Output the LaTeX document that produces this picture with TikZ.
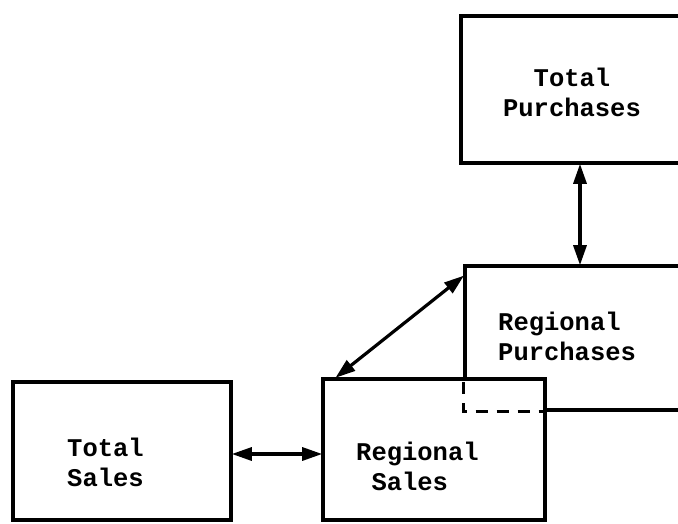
\documentclass[tikz,border=0pt]{standalone}
\usepackage{fontspec}
\newfontfamily\tw{Liberation Mono}
\usetikzlibrary{arrows.meta,calc}
\tikzset{
  box/.style={draw, line width=3.6pt, fill=white, inner sep=0pt, rectangle},
  lbl/.style={font=\tw\bfseries\fontsize{25.5}{30}\selectfont, inner sep=0pt},
  link/.style={line width=3.2pt, {Triangle[length=20pt,width=13pt]}-{Triangle[length=20pt,width=13pt]}, shorten <=-1pt, shorten >=-1pt},
  hidden/.style={line width=3.2pt, dash pattern=on 12pt off 9pt}
}
\begin{document}
\begin{tikzpicture}[x=1pt,y=-1pt]
\useasboundingbox (0,0) rectangle (678,523);
\clip (0,0) rectangle (678,523);
\fill[white] (0,0) rectangle (678,523);
% boxes
\node[box, minimum width=222pt, minimum height=147pt] (tp) at (572,89.5) {};
\node[box, minimum width=225pt, minimum height=144pt] (rp) at (577.5,338) {};
\node[box, minimum width=222pt, minimum height=141pt] (rs) at (434,449.5) {};
\node[box, minimum width=218pt, minimum height=138pt] (ts) at (122,451) {};
% labels
\node[lbl, align=center] (tpt) at (572,92) {Total\\Purchases};
\node[lbl, align=left, anchor=west] (rpt) at (498,336) {Regional\\Purchases};
\node[lbl, align=left, anchor=west] (rst) at (356,466) {Regional\\\hphantom{R}Sales};
\node[lbl, align=left, anchor=west] (tst) at (67,462) {Total\\Sales};
% connector end points
\coordinate (tsa) at ([yshift=-3pt]ts.east);
\coordinate (rsa) at (tsa -| rs.west);
\coordinate (rsb) at ($(rs.north west)+(15,0)$);
\coordinate (rpb) at ($(rp.north west)+(0,12)$);
\coordinate (tpc) at ($(tp.south)+(8,0)$);
\coordinate (rpc) at (tpc |- rp.north);
% connectors
\draw[link] (tsa) -- (rsa);
\draw[link] (rsb) -- (rpb);
\draw[link] (tpc) -- (rpc);
% hidden corner of Regional Purchases
\coordinate (rph) at ($(rp.south west |- rs.north)+(0,5)$);
\coordinate (rpe) at (rp.south west -| rs.east);
\draw[hidden] (rph) -- (rp.south west) -- (rpe);
\end{tikzpicture}
\end{document}
